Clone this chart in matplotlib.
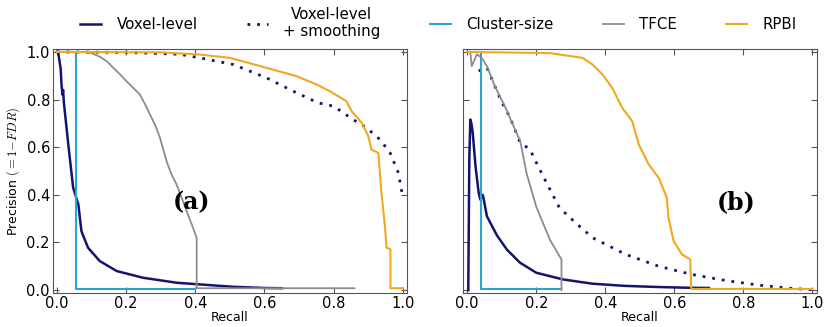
import matplotlib
matplotlib.use("Agg")
import matplotlib.pyplot as plt

# ---- panel (a) ----
a_voxel_r = [0.0, 0.004, 0.009, 0.011, 0.013, 0.016, 0.018, 0.02, 0.033, 0.047, 0.062, 0.071,
             0.09, 0.124, 0.173, 0.249, 0.346, 0.442, 0.51, 0.6, 0.65]
a_voxel_p = [1.0, 0.996, 0.947, 0.93, 0.87, 0.82, 0.84, 0.79, 0.611, 0.43, 0.36, 0.247,
             0.178, 0.122, 0.08, 0.052, 0.031, 0.021, 0.014, 0.009, 0.008]

a_smooth_r = [0.0, 0.2, 0.356, 0.413, 0.51, 0.606, 0.683, 0.755, 0.8, 0.856, 0.895, 0.934,
              0.963, 0.987, 1.0]
a_smooth_p = [1.0, 0.998, 0.99, 0.975, 0.947, 0.891, 0.835, 0.786, 0.772, 0.716, 0.681, 0.632,
              0.576, 0.492, 0.388]

a_cluster_r = [0.0, 0.055, 0.055, 0.40]
a_cluster_p = [1.0, 1.0, 0.006, 0.006]

a_tfce_r = [0.081, 0.1, 0.124, 0.145, 0.163, 0.183, 0.201, 0.22, 0.24, 0.255, 0.269, 0.285,
            0.298, 0.317, 0.33, 0.346, 0.36, 0.375, 0.39, 0.404, 0.404, 0.86]
a_tfce_p = [1.0, 0.995, 0.98, 0.96, 0.933, 0.905, 0.877, 0.85, 0.821, 0.78, 0.737, 0.69,
            0.639, 0.541, 0.49, 0.443, 0.39, 0.331, 0.275, 0.22, 0.008, 0.008]

a_rpbi_r = [0.0, 0.3, 0.413, 0.5, 0.606, 0.693, 0.751, 0.789, 0.837, 0.852,
            0.881, 0.9, 0.909, 0.929, 0.938, 0.948, 0.953, 0.964, 0.964, 1.0]
a_rpbi_p = [1.0, 0.998, 0.989, 0.975, 0.933, 0.898, 0.863, 0.835, 0.793, 0.751,
            0.702, 0.646, 0.59, 0.576, 0.409, 0.268, 0.178, 0.171, 0.008, 0.008]

# ---- panel (b) ----
b_voxel_r = [0.003, 0.006, 0.009, 0.012, 0.016, 0.024, 0.033, 0.038, 0.045, 0.048, 0.057, 0.086,
             0.115, 0.153, 0.2, 0.277, 0.363, 0.455, 0.555, 0.64, 0.70]
b_voxel_p = [0.0, 0.55, 0.716, 0.70, 0.66, 0.52, 0.41, 0.38, 0.40, 0.38, 0.31, 0.23,
             0.17, 0.115, 0.073, 0.045, 0.027, 0.018, 0.013, 0.01, 0.009]

b_smooth_r = [0.033, 0.057, 0.08, 0.10, 0.115, 0.134, 0.153, 0.163, 0.182, 0.21, 0.23, 0.267,
              0.316, 0.363, 0.459, 0.555, 0.65, 0.75, 0.85, 0.95, 1.0]
b_smooth_p = [0.92, 0.935, 0.856, 0.79, 0.75, 0.69, 0.62, 0.61, 0.59, 0.506, 0.45, 0.346,
              0.28, 0.22, 0.15, 0.10, 0.066, 0.04, 0.02, 0.006, 0.002]

b_cluster_r = [0.0, 0.04, 0.04, 0.273]
b_cluster_p = [1.0, 1.0, 0.006, 0.006]

b_tfce_r = [0.009, 0.013, 0.028, 0.042, 0.057, 0.08, 0.109, 0.147, 0.153, 0.172, 0.20,
            0.24, 0.273, 0.273]
b_tfce_p = [0.996, 0.94, 0.99, 0.975, 0.94, 0.856, 0.772, 0.646, 0.63, 0.49, 0.35,
            0.21, 0.129, 0.0]

b_rpbi_r = [0.0, 0.24, 0.334, 0.363, 0.392, 0.42, 0.449, 0.478, 0.497, 0.526, 0.555, 0.578,
            0.583, 0.598, 0.622, 0.646, 0.649, 1.0]
b_rpbi_p = [1.0, 0.995, 0.975, 0.947, 0.905, 0.849, 0.765, 0.709, 0.611, 0.527, 0.471, 0.388,
            0.304, 0.206, 0.15, 0.129, 0.005, 0.005]

labels = ["Voxel-level", "Voxel-level\n+ smoothing", "Cluster-size", "TFCE", "RPBI"]
colors = ["#14146e", "#14146e", "#29a3dc", "#8c8c8c", "#f0a81e"]

plt.rcParams["mathtext.fontset"] = "cm"

fig = plt.figure(figsize=(8.24, 3.27), dpi=100)
ax_a = fig.add_axes([0.064, 0.104, 0.430, 0.746])
ax_b = fig.add_axes([0.562, 0.104, 0.429, 0.746])

panels = [
    (ax_a, "(a)", (0.39, 0.37),
     [(a_voxel_r, a_voxel_p), (a_smooth_r, a_smooth_p), (a_cluster_r, a_cluster_p),
      (a_tfce_r, a_tfce_p), (a_rpbi_r, a_rpbi_p)]),
    (ax_b, "(b)", (0.78, 0.37),
     [(b_voxel_r, b_voxel_p), (b_smooth_r, b_smooth_p), (b_cluster_r, b_cluster_p),
      (b_tfce_r, b_tfce_p), (b_rpbi_r, b_rpbi_p)]),
]

styles = [
    dict(lw=1.8, ls="-"),
    dict(lw=2.0, ls=(0, (1, 2.5))),
    dict(lw=1.5, ls="-"),
    dict(lw=1.3, ls="-"),
    dict(lw=1.5, ls="-"),
]

handles = []
for ax, tag, pos, curves in panels:
    handles = []
    for (r, p), lab, col, st in zip(curves, labels, colors, styles):
        h, = ax.plot(r, p, color=col, label=lab, **st)
        handles.append(h)
    ax.set_xlim(-0.012, 1.012)
    ax.set_ylim(-0.012, 1.012)
    ax.set_xticks([0.0, 0.2, 0.4, 0.6, 0.8, 1.0])
    ax.set_yticks([0.0, 0.2, 0.4, 0.6, 0.8, 1.0])
    ax.tick_params(direction="in", top=True, right=True, length=4, labelsize=10.5, pad=2,
                   color="#555555")
    for s in ax.spines.values():
        s.set_color("#555555")
    ax.set_xlabel("Recall", fontsize=9, labelpad=0)
    ax.text(pos[0], pos[1], tag, fontsize=17, fontweight="bold", family="DejaVu Serif",
            ha="center", va="center")

ax_b.set_yticklabels([])
ax_a.set_ylabel(r"Precision $( = 1\!-\!FDR)$", fontsize=9, labelpad=3)

leg = fig.legend(handles, labels, loc="upper center", ncol=5, frameon=False,
                 bbox_to_anchor=(0.532, 1.02), fontsize=10.8, handlelength=1.4,
                 handletextpad=1.0, columnspacing=3.3)
for t in leg.get_texts():
    t.set_multialignment("center")

fig.savefig("out.png", dpi=100)
